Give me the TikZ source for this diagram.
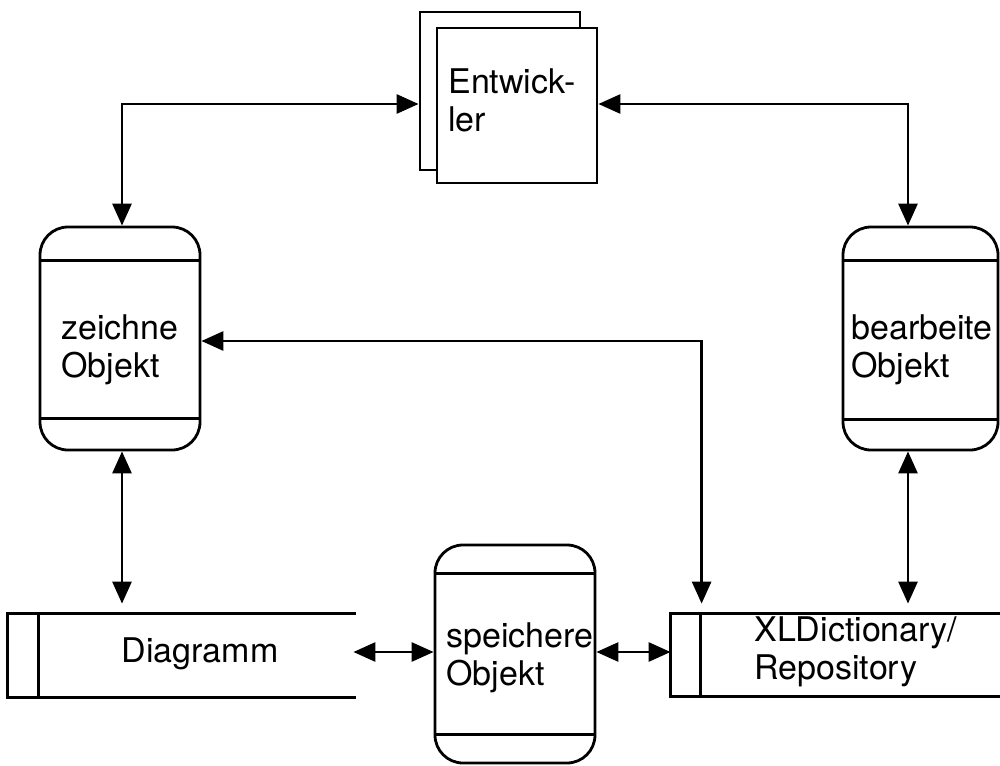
\documentclass[tikz,border=0pt]{standalone}
\usepackage{fontspec}
\setmainfont{TeX Gyre Heros}
\usetikzlibrary{arrows.meta,calc}

\begin{document}
\begin{tikzpicture}[x=0.5pt,y=-0.5pt,
  line width=1.4pt,
  >={Triangle[length=11pt,width=9.5pt]},
  proc/.style={draw, rounded corners=14pt, inner sep=0pt},
  sheet/.style={draw, fill=white, inner sep=0pt},
  storearea/.style={inner sep=0pt},
  lbl/.style={font=\fontsize{17}{19}\selectfont, align=left, inner sep=0pt, anchor=base west},
  link/.style={<->}]
\useasboundingbox (0,0) rectangle (1000,765);

% external entity: two stacked sheets
\node[sheet, minimum width=80pt, minimum height=79pt] (entback) at (500,91) {};
\node[sheet, minimum width=80pt, minimum height=77.5pt] (ent) at (517,105.5) {};
\node[lbl] (entlbl) at (447,132) {Entwick-\\ler};

% processes
\node[proc, minimum width=80pt, minimum height=111.5pt] (zei) at (120,338.5) {};
\draw ([yshift=-17.5pt]zei.north west) -- ([yshift=-17.5pt]zei.north east)
      ([yshift=16.5pt]zei.south west) -- ([yshift=16.5pt]zei.south east);
\node[lbl] (zeilbl) at (60,377) {zeichne\\Objekt};

\node[proc, minimum width=77.5pt, minimum height=111.5pt] (bear) at (920.5,338.5) {};
\draw ([yshift=-17.5pt]bear.north west) -- ([yshift=-17.5pt]bear.north east)
      ([yshift=16pt]bear.south west) -- ([yshift=16pt]bear.south east);
\node[lbl] (bearlbl) at (850,377) {bearbeite\\Objekt};

\node[proc, minimum width=80pt, minimum height=109pt] (spe) at (515,654) {};
\draw ([yshift=-15pt]spe.north west) -- ([yshift=-15pt]spe.north east)
      ([yshift=15pt]spe.south west) -- ([yshift=15pt]spe.south east);
\node[lbl] (spelbl) at (445,685) {speichere\\Objekt};

% data stores (open on the right)
\node[storearea, minimum width=173pt, minimum height=40.5pt] (dia) at (182,655.5) {};
\draw (dia.north east) -- (dia.north west) -- (dia.south west) -- (dia.south east);
\draw ([xshift=15.5pt]dia.north west) -- ([xshift=15.5pt]dia.south west);
\node[lbl, anchor=base] (dialbl) at (200,662) {Diagramm};

\node[storearea, minimum width=163.5pt, minimum height=40pt] (xl) at (835.5,655) {};
\draw (xl.north east) -- (xl.north west) -- (xl.south west) -- (xl.south east);
\draw ([xshift=15pt]xl.north west) -- ([xshift=15pt]xl.south west);
\node[lbl] (xllbl) at (753,679) {XLDictionary/\\Repository};

% data flows
\draw[link] ([xshift=1pt]zei.north) |- (entback.west |- 0,104);
\draw[link] ([xshift=-6.25pt]bear.north) |- (ent.east |- 0,104);
\draw[link, shorten >=5pt] (zei.east |- 0,341) -| ([xshift=15.5pt]xl.north west);
\draw[link, shorten >=5pt] ([xshift=1pt]zei.south) -- ([xshift=1pt]zei.south |- dia.north);
\draw[link, shorten >=5pt] ([xshift=-6.25pt]bear.south) -- ([xshift=-6.25pt]bear.south |- xl.north);
\draw[link, shorten >=-1.5pt] (spe.west |- 0,652) -- (dia.east |- 0,652);
\draw[link] (spe.east |- 0,652) -- (xl.west |- 0,652);
\end{tikzpicture}
\end{document}
